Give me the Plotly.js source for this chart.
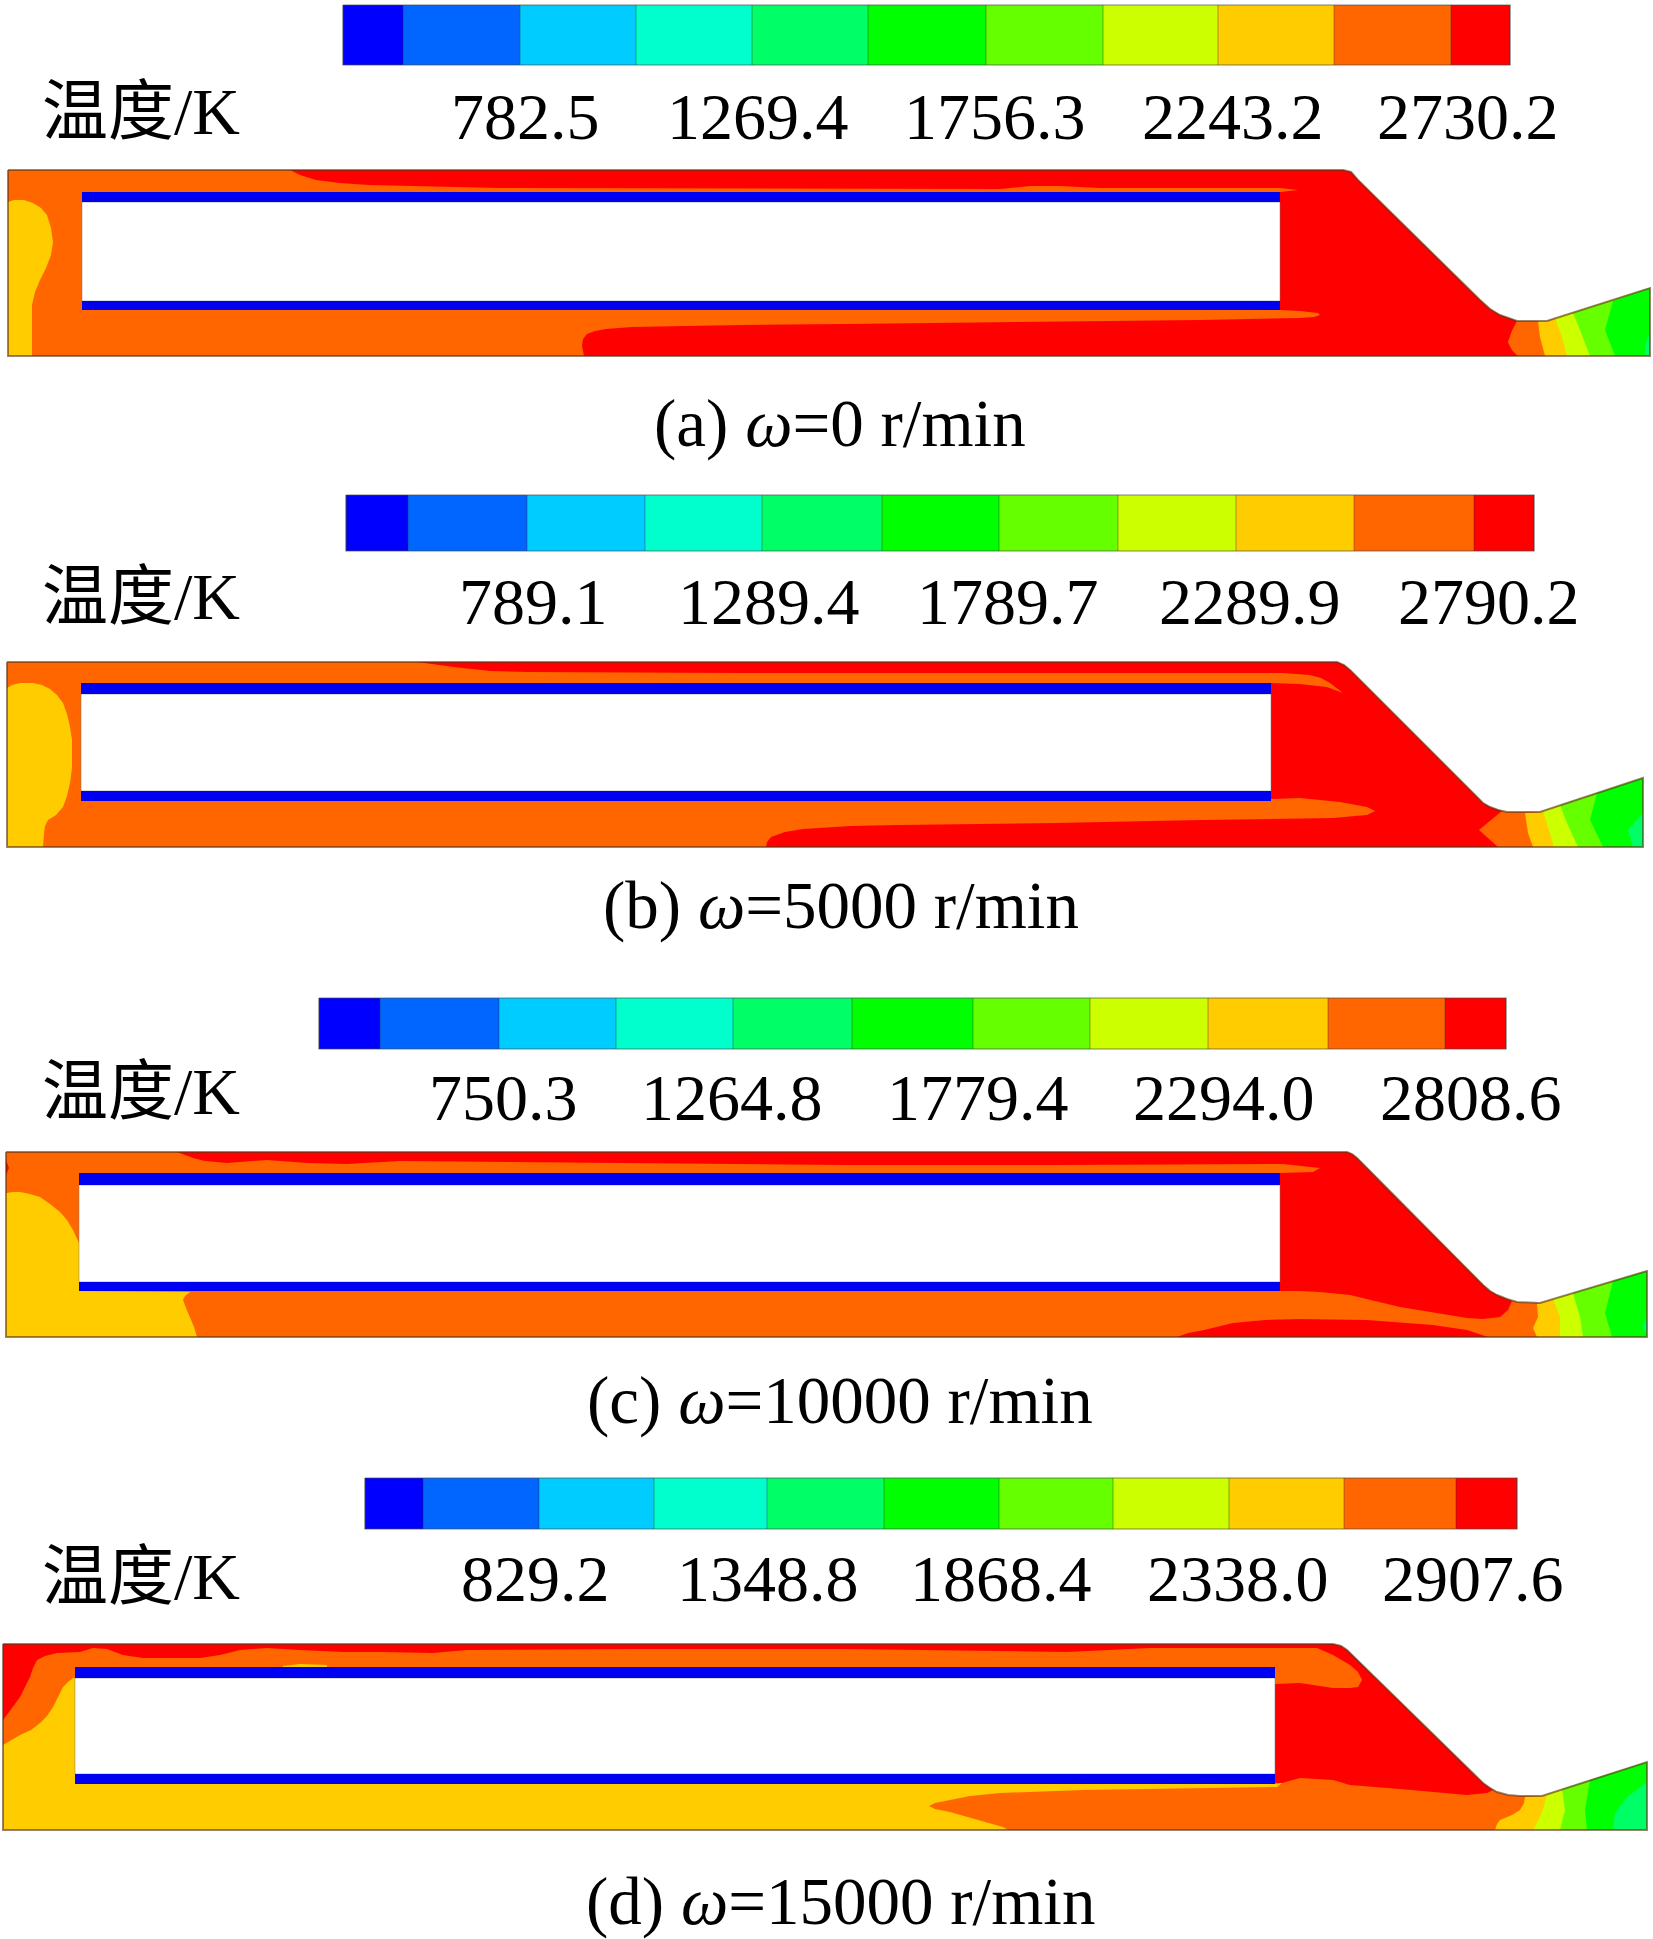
<!DOCTYPE html>
<html>
<head>
<meta charset="utf-8">
<script src="https://cdn.plot.ly/plotly-3.0.1.min.js"></script>
<style>
  html, body { margin: 0; padding: 0; background: #fff; }
</style>
</head>
<body>
<div id="plot" style="width:1653px;height:1939px"></div>
<script>
// contour level colours, coldest to hottest
var levelColors = ['#0000ff', '#0066ff', '#00ccff', '#00ffcc', '#00ff66', '#00ff00',
                   '#66ff00', '#ccff00', '#ffcc00', '#ff6600', '#ff0000'];
var RED = '#ff0000', ORANGE = '#ff6600', YELLOW = '#ffcc00', LIME = '#ccff00',
    LGREEN = '#66ff00', GREEN = '#00ff00', SGREEN = '#00ff66';

// tick labels of the four legends
var ticksA = ['782.5', '1269.4', '1756.3', '2243.2', '2730.2'];
var ticksB = ['789.1', '1289.4', '1789.7', '2289.9', '2790.2'];
var ticksC = ['750.3', '1264.8', '1779.4', '2294.0', '2808.6'];
var ticksD = ['829.2', '1348.8', '1868.4', '2338.0', '2907.6'];
var captions = ['(a) <i>ω</i>=0 r/min', '(b) <i>ω</i>=5000 r/min', '(c) <i>ω</i>=10000 r/min', '(d) <i>ω</i>=15000 r/min'];

// legend cell edges
var edgesA = [343, 403, 520, 636, 752, 868, 986, 1103, 1218, 1334, 1451, 1510];
var edgesB = [346, 408, 527, 645, 762, 882, 999, 1118, 1236, 1354, 1474, 1534];
var edgesC = [319, 380, 499, 616, 733, 852, 973, 1090, 1208, 1328, 1445, 1506];
var edgesD = [365, 423, 539, 654, 767, 884, 999, 1113, 1229, 1344, 1456, 1517];

// chamber outlines
var outlineA = [[8,170],[1343,170],[1351,172],[1358,180],[1480,300],[1490,309],[1500,315],[1510,319],[1517,321],[1547,321],[1650,288],[1650,356],[8,356]];
var outlineB = [[7,662],[1337,662],[1344,665],[1350,670],[1477,797],[1483,803],[1490,807],[1498,810],[1507,812],[1540,812],[1643,778],[1643,847],[7,847]];
var outlineC = [[6,1152],[1347,1152],[1352,1154],[1357,1158],[1483,1285],[1490,1291],[1497,1295],[1507,1299],[1517,1302],[1540,1303],[1647,1271],[1647,1337],[6,1337]];
var outlineD = [[3,1644],[1333,1644],[1341,1646],[1347,1650],[1483,1783],[1490,1788],[1497,1792],[1508,1795],[1520,1796],[1542,1796],[1647,1762],[1647,1830],[3,1830]];

// liner: x start, x end, top band y0,y1, bottom band y0,y1
var linerA = [82, 1280, 192, 202, 301, 310];
var linerB = [81, 1271, 683, 694, 791, 801];
var linerC = [79, 1280, 1173, 1185, 1282, 1291];
var linerD = [75, 1275, 1667, 1678, 1774, 1784];

// panel a contours
var redA = [[290,170],[1343,170],[1351,172],[1358,180],[1480,300],[1490,309],[1500,315],[1510,319],[1517,321],[1512,331],[1508,342],[1512,350],[1518,356],[584,356],[582,346],[583,339],[587,334],[595,331],[606,329],[632,327],[742,325],[843,324],[1054,322],[1200,320],[1300,318],[1314,317],[1320,315],[1318,313],[1300,311],[1280,310],[1280,192],[1298,190],[1280,188],[1100,188],[1060,186],[1030,186],[1000,189],[500,188],[369,185],[340,183],[316,180],[300,175]];
var yellowInletA = [[8,202],[14,200],[24,200],[33,203],[41,208],[47,215],[51,228],[53,242],[51,255],[46,268],[40,280],[35,292],[32,305],[32,356],[8,356]];
var orangeExitA = [[1517,321],[1547,321],[1650,288],[1650,356],[1518,356],[1512,350],[1508,342],[1512,331]];
var yellowExitA = [[1538,321],[1547,321],[1650,288],[1650,356],[1545,356],[1542,346],[1540,337],[1539,329]];
var limeExitA = [[1555,318],[1650,288],[1650,356],[1567,356],[1562,337]];
var lgreenExitA = [[1573,313],[1650,288],[1650,356],[1590,356],[1580,330]];
var greenExitA = [[1613,301],[1650,288],[1650,356],[1615,356],[1605,330]];
var sgreenExitA = [[1650,333],[1645,345],[1645,356],[1650,356]];

// panel b contours
var redB = [[417,662],[1337,662],[1344,665],[1350,670],[1477,797],[1483,803],[1490,807],[1502,811],[1479,830],[1498,847],[766,847],[767,842],[771,837],[785,832],[803,829],[850,826],[898,825],[1056,823],[1200,820],[1300,818],[1333,818],[1355,816],[1367,815],[1375,811],[1367,807],[1340,802],[1300,798],[1271,799],[1271,683],[1300,684],[1327,687],[1343,693],[1330,683],[1321,678],[1310,675],[1283,673],[739,673],[528,672],[490,671],[454,667],[433,664]];
var yellowInletB = [[7,688],[12,685],[20,683],[33,683],[42,685],[50,689],[57,695],[63,703],[67,714],[70,727],[72,740],[72,753],[72,768],[70,783],[67,796],[63,807],[56,815],[48,820],[45,826],[44,833],[43,847],[7,847]];
var yellowExitB = [[1525,813],[1540,812],[1643,778],[1643,847],[1533,847],[1528,833]];
var limeExitB = [[1543,811],[1643,778],[1643,847],[1554,847],[1548,827]];
var lgreenExitB = [[1560,805],[1643,778],[1643,847],[1578,847],[1567,823]];
var greenExitB = [[1597,793],[1643,778],[1643,847],[1603,847],[1590,820]];
var sgreenExitB = [[1643,813],[1628,830],[1633,847],[1643,847]];

// panel c contours
var redC = [[177,1152],[1347,1152],[1352,1154],[1357,1158],[1483,1285],[1490,1291],[1497,1295],[1512,1301],[1508,1310],[1500,1317],[1483,1319],[1467,1318],[1400,1307],[1350,1295],[1320,1292],[1300,1291],[1280,1291],[1280,1173],[1313,1172],[1320,1168],[1283,1164],[1056,1165],[845,1165],[400,1161],[347,1164],[307,1163],[267,1160],[227,1163],[205,1161],[193,1158]];
var redBlobC = [[1177,1337],[1188,1333],[1204,1330],[1233,1323],[1265,1320],[1300,1319],[1367,1320],[1433,1325],[1467,1330],[1488,1337]];
var redCornerC = [[6,1160],[9,1168],[6,1175]];
var yellowInletC = [[6,1193],[13,1192],[20,1192],[30,1194],[40,1197],[50,1204],[60,1212],[67,1220],[73,1230],[79,1243],[79,1291],[190,1292],[185,1296],[183,1300],[186,1308],[190,1317],[194,1327],[197,1337],[6,1337]];
var yellowExitC = [[1537,1304],[1540,1303],[1647,1271],[1647,1337],[1537,1337],[1533,1328],[1538,1317]];
var limeExitC = [[1553,1299],[1647,1271],[1647,1337],[1560,1337],[1560,1317]];
var lgreenExitC = [[1573,1293],[1647,1271],[1647,1337],[1583,1337],[1580,1317]];
var greenExitC = [[1613,1281],[1647,1271],[1647,1337],[1612,1337],[1605,1313]];
var sgreenExitC = [[1647,1317],[1642,1327],[1647,1335]];

// panel d contours
var redD = [[3,1644],[1333,1644],[1341,1646],[1347,1650],[1483,1783],[1490,1788],[1493,1790],[1487,1793],[1467,1795],[1400,1789],[1350,1785],[1333,1780],[1300,1778],[1282,1783],[1275,1783],[1275,1684],[1300,1683],[1333,1688],[1350,1688],[1358,1687],[1362,1680],[1358,1672],[1350,1665],[1333,1655],[1317,1648],[1150,1648],[1067,1652],[845,1649],[634,1649],[467,1650],[433,1653],[383,1652],[343,1652],[300,1650],[267,1648],[240,1650],[220,1655],[200,1658],[143,1658],[123,1655],[107,1649],[93,1648],[80,1652],[57,1653],[45,1656],[37,1660],[33,1668],[30,1677],[25,1687],[20,1697],[12,1708],[3,1720]];
var yellowLowerD = [[3,1745],[20,1735],[31,1730],[40,1723],[47,1716],[53,1707],[58,1697],[63,1687],[68,1682],[73,1678],[75,1678],[75,1784],[1275,1784],[1282,1783],[1277,1787],[1150,1789],[1083,1790],[1000,1793],[970,1796],[950,1800],[935,1803],[929,1806],[935,1809],[950,1812],[1003,1827],[1008,1830],[3,1830]];
var yellowSliverD = [[283,1666],[300,1664],[327,1665],[327,1667],[283,1667]];
var yellowExitD = [[1525,1797],[1542,1796],[1647,1762],[1647,1830],[1495,1830],[1497,1824],[1500,1820],[1512,1815],[1520,1810],[1524,1803]];
var limeExitD = [[1547,1794],[1647,1762],[1647,1830],[1533,1830],[1535,1827],[1543,1810]];
var lgreenExitD = [[1562,1789],[1647,1762],[1647,1830],[1560,1830],[1565,1810]];
var greenExitD = [[1590,1780],[1647,1762],[1647,1830],[1587,1830],[1585,1810]];
var sgreenExitD = [[1647,1782],[1627,1797],[1615,1813],[1613,1830],[1647,1830]];

var data = [];

// filled polygon, painted in trace order
function addRegion(pts, color) {
  data.push({
    x: pts.map(function(p) { return p[0]; }).concat([pts[0][0]]),
    y: pts.map(function(p) { return p[1]; }).concat([pts[0][1]]),
    type: 'scatter', mode: 'lines', fill: 'toself', fillcolor: color,
    line: {width: 0}, hoverinfo: 'skip'
  });
}

function addOutline(pts, color, width) {
  data.push({
    x: pts.map(function(p) { return p[0]; }).concat([pts[0][0]]),
    y: pts.map(function(p) { return p[1]; }).concat([pts[0][1]]),
    type: 'scatter', mode: 'lines', line: {color: color, width: width}, hoverinfo: 'skip'
  });
}

function addLiner(l) {
  addRegion([[l[0],l[3]],[l[1],l[3]],[l[1],l[4]],[l[0],l[4]]], '#ffffff');
  addOutline([[l[0],l[3]],[l[1],l[3]],[l[1],l[4]],[l[0],l[4]]], 'rgba(120,120,120,0.5)', 1);
  addRegion([[l[0],l[2]],[l[1],l[2]],[l[1],l[3]],[l[0],l[3]]], '#0000f0');
  addRegion([[l[0],l[4]],[l[1],l[4]],[l[1],l[5]],[l[0],l[5]]], '#0000f0');
}

// legend strip
function addLegend(edges, y0, y1) {
  var z = levelColors.map(function(c, i) { return i; });
  data.push({
    type: 'heatmap', x: edges, y: [y0, y1], z: [z], zmin: 0, zmax: 10,
    colorscale: levelColors.map(function(c, i) { return [i / 10, c]; }),
    showscale: false, hoverinfo: 'skip'
  });
  var gx = [], gy = [];
  edges.forEach(function(e) { gx.push(e, e, null); gy.push(y0, y1, null); });
  data.push({type: 'scatter', mode: 'lines', x: gx, y: gy,
    line: {color: 'rgba(40,40,40,0.4)', width: 1}, hoverinfo: 'skip'});
  addOutline([[edges[0],y0],[edges[11],y0],[edges[11],y1],[edges[0],y1]], 'rgba(70,70,70,0.45)', 1.5);
}

// panel a
addLegend(edgesA, 5, 65);
addRegion(outlineA, ORANGE);
addRegion(redA, RED);
addRegion(yellowInletA, YELLOW);
addRegion(orangeExitA, ORANGE);
addRegion(yellowExitA, YELLOW);
addRegion(limeExitA, LIME);
addRegion(lgreenExitA, LGREEN);
addRegion(greenExitA, GREEN);
addRegion(sgreenExitA, SGREEN);
addLiner(linerA);
addOutline(outlineA, 'rgba(90,50,20,0.6)', 2);

// panel b
addLegend(edgesB, 495, 551);
addRegion(outlineB, ORANGE);
addRegion(redB, RED);
addRegion(yellowInletB, YELLOW);
addRegion(yellowExitB, YELLOW);
addRegion(limeExitB, LIME);
addRegion(lgreenExitB, LGREEN);
addRegion(greenExitB, GREEN);
addRegion(sgreenExitB, SGREEN);
addLiner(linerB);
addOutline(outlineB, 'rgba(90,50,20,0.6)', 2);

// panel c
addLegend(edgesC, 998, 1049);
addRegion(outlineC, ORANGE);
addRegion(redC, RED);
addRegion(redBlobC, RED);
addRegion(redCornerC, RED);
addRegion(yellowInletC, YELLOW);
addRegion(yellowExitC, YELLOW);
addRegion(limeExitC, LIME);
addRegion(lgreenExitC, LGREEN);
addRegion(greenExitC, GREEN);
addRegion(sgreenExitC, SGREEN);
addLiner(linerC);
addOutline(outlineC, 'rgba(90,50,20,0.6)', 2);

// panel d
addLegend(edgesD, 1478, 1529);
addRegion(outlineD, ORANGE);
addRegion(yellowLowerD, YELLOW);
addRegion(redD, RED);
addRegion(yellowSliverD, YELLOW);
addRegion(yellowExitD, YELLOW);
addRegion(limeExitD, LIME);
addRegion(lgreenExitD, LGREEN);
addRegion(greenExitD, GREEN);
addRegion(sgreenExitD, SGREEN);
addLiner(linerD);
addOutline(outlineD, 'rgba(90,50,20,0.6)', 2);

var annotations = [];
var serif = '"Liberation Serif", "Noto Sans CJK SC", serif';

function addText(text, x, y, size) {
  annotations.push({
    text: text, x: x, y: y, xref: 'x', yref: 'y', showarrow: false,
    xanchor: 'center', yanchor: 'middle',
    font: {family: serif, size: size, color: '#000'}
  });
}

// label centres
var tickXA = [525, 758, 995, 1233, 1468];
var tickXB = [533, 769, 1008, 1250, 1489];
var tickXC = [503, 732, 978, 1224, 1471];
var tickXD = [535, 768, 1001, 1238, 1473];

ticksA.forEach(function(t, i) { addText(t, tickXA[i], 116, 66); });
ticksB.forEach(function(t, i) { addText(t, tickXB[i], 601, 66); });
ticksC.forEach(function(t, i) { addText(t, tickXC[i], 1097, 66); });
ticksD.forEach(function(t, i) { addText(t, tickXD[i], 1578, 66); });

[111, 596, 1091, 1576].forEach(function(y) { addText('温度/K', 141, y, 66); });

addText(captions[0], 840, 423, 67);
addText(captions[1], 841, 905, 67);
addText(captions[2], 840, 1400, 67);
addText(captions[3], 840, 1901, 67);

var layout = {
  width: 1653, height: 1939,
  margin: {l: 0, r: 0, t: 0, b: 0},
  paper_bgcolor: '#fff', plot_bgcolor: '#fff',
  showlegend: false,
  xaxis: {range: [0, 1653], visible: false, fixedrange: true},
  yaxis: {range: [1939, 0], visible: false, fixedrange: true},
  annotations: annotations
};

Plotly.newPlot(document.getElementById('plot'), data, layout, {displayModeBar: false, staticPlot: true});
</script>
</body>
</html>
